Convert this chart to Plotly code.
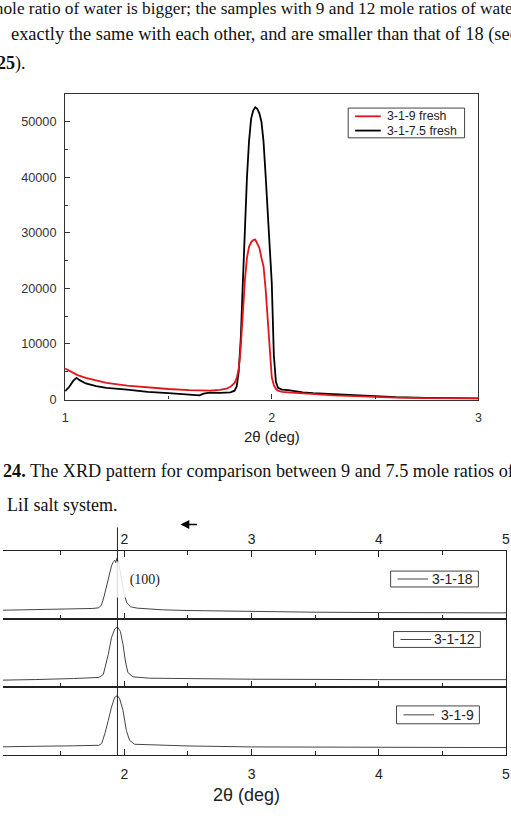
import plotly.graph_objects as go

W, H = 511, 820

# ---------------- upper chart: XRD of 3-1-9 fresh vs 3-1-7.5 fresh ----------------
top_names = ["3-1-9 fresh", "3-1-7.5 fresh"]
top_colors = ["#e3141c", "#000000"]
top_xticks = [1, 2, 3]
top_yticks = [0, 10000, 20000, 30000, 40000, 50000]

tt_red = [1.00, 1.03, 1.06, 1.10, 1.15, 1.20, 1.30, 1.40, 1.50, 1.60, 1.70, 1.75, 1.78, 1.80, 1.82,
          1.83, 1.84, 1.85, 1.86, 1.87, 1.88, 1.89, 1.90, 1.91, 1.92, 1.93, 1.94, 1.95, 1.96, 1.97,
          1.98, 1.99, 2.00, 2.01, 2.02, 2.03, 2.05, 2.10, 2.15, 2.20, 2.30, 2.40, 2.50, 2.60, 2.75,
          2.90, 3.00]
I_red = [5600, 5000, 4400, 3900, 3400, 3000, 2500, 2150, 1900, 1700, 1600, 1750, 1950, 2300, 3000,
         3800, 5500, 9500, 16000, 21500, 25500, 27500, 28300, 28700, 28800, 28000, 27300, 25500, 24000, 20000,
         14000, 8000, 4000, 2600, 1900, 1600, 1400, 1250, 1100, 950, 750, 600, 450, 350, 250,
         200, 180]

tt_black = [1.00, 1.02, 1.04, 1.055, 1.07, 1.10, 1.15, 1.20, 1.30, 1.40, 1.50, 1.60, 1.65, 1.67, 1.70,
            1.75, 1.80, 1.82, 1.83, 1.84, 1.85, 1.86, 1.87, 1.88, 1.89, 1.90, 1.91, 1.92, 1.93, 1.94,
            1.95, 1.96, 1.97, 1.98, 1.99, 2.00, 2.01, 2.02, 2.03, 2.05, 2.08, 2.10, 2.15, 2.20, 2.30,
            2.40, 2.50, 2.60, 2.75, 2.90, 3.00]
I_black = [1500, 2300, 3400, 3900, 3500, 2900, 2400, 2100, 1800, 1400, 1150, 900, 750, 1050, 1250,
           1200, 1300, 1600, 2300, 5000, 11000, 21000, 31000, 40000, 46500, 50500, 52000, 52600, 52300, 51500,
           50000, 46500, 40500, 34000, 27500, 21000, 8000, 3200, 2100, 1800, 1700, 1550, 1300, 1150, 950,
           750, 550, 450, 320, 250, 220]

# ---------------- lower chart: stacked XRD patterns (arbitrary intensity) ----------------
panel_names = ["3-1-18", "3-1-12", "3-1-9"]
bottom_xticks = [1, 2, 3, 4, 5]
peak_position = 1.946
peak_label = "(100)"

p18_x = [1.00, 1.05, 1.20, 1.40, 1.60, 1.75, 1.80, 1.82, 1.84, 1.86, 1.875, 1.89, 1.90, 1.915, 1.925,
         1.933, 1.943, 1.96, 1.98, 2.00, 2.02, 2.05, 2.10, 2.30, 2.50, 3.00, 3.50, 4.00, 4.50, 5.00]
p18_y = [14, 13.5, 14, 14.5, 15, 16, 17, 21, 33, 48, 56, 70, 79, 85, 87,
         83, 90, 78, 55, 36, 24, 18.5, 16.5, 14, 13, 11.2, 10.5, 10, 9.8, 9.5]

p12_x = [1.00, 1.05, 1.30, 1.60, 1.80, 1.835, 1.855, 1.874, 1.899, 1.925, 1.946, 1.969, 1.99, 2.008,
         2.028, 2.067, 2.20, 2.50, 3.00, 4.00, 5.00]
p12_y = [10.5, 10.6, 11.5, 13, 14.6, 19, 33, 48.5, 73, 86, 89, 82.4, 63, 38.8,
         21.8, 15.5, 13.5, 12.7, 12, 11.4, 11.4]

p9_x = [1.00, 1.05, 1.30, 1.60, 1.80, 1.822, 1.847, 1.874, 1.899, 1.925, 1.946, 1.964, 1.99, 2.016,
        2.041, 2.08, 2.50, 3.00, 4.00, 5.00]
p9_y = [12.6, 12.6, 13.5, 14.2, 15, 17.5, 32, 51.4, 71, 85.5, 87.8, 83, 66, 36.9,
        22.3, 16.5, 14, 12.6, 11.6, 11.6]

p18_yticks = [8, 55]
p12_yticks = [12, 44, 89]
p9_yticks = [13, 50, 90]

# ---------------- helpers ----------------
SANS = "Liberation Sans, Arial, sans-serif"
SERIF = "Liberation Serif, Times New Roman, serif"
AX = "#333333"


def px(x):
    return x / W


def py(y):
    return 1 - y / H


fig = go.Figure()

# upper chart traces
fig.add_trace(go.Scatter(x=tt_black, y=I_black, mode="lines", name=top_names[1],
                         line=dict(color=top_colors[1], width=1.8), xaxis="x", yaxis="y", showlegend=False))
fig.add_trace(go.Scatter(x=tt_red, y=I_red, mode="lines", name=top_names[0],
                         line=dict(color=top_colors[0], width=1.8), xaxis="x", yaxis="y", showlegend=False))

# lower chart traces
for (xs, ys, nm, xa, ya) in [(p18_x, p18_y, panel_names[0], "x2", "y2"),
                             (p12_x, p12_y, panel_names[1], "x3", "y3"),
                             (p9_x, p9_y, panel_names[2], "x4", "y4")]:
    fig.add_trace(go.Scatter(x=xs, y=ys, mode="lines", name=nm, line=dict(color="#444444", width=1),
                             xaxis=xa, yaxis=ya, showlegend=False))

# ---------------- axes ----------------
top_x = dict(domain=[px(63), px(482)], range=[1, 3], tickvals=top_xticks,
             ticks="inside", ticklen=5, tickcolor=AX, tickwidth=1,
             minor=dict(ticks="inside", ticklen=3, dtick=0.5, tick0=1, tickcolor=AX),
             showline=True, linecolor=AX, linewidth=1.3, mirror=True,
             showgrid=False, zeroline=False, anchor="y", ticklabelstandoff=6,
             tickfont=dict(family=SANS, size=12.5, color="#333"))
top_y = dict(domain=[py(403), py(94.7)], range=[0, 55000], tickvals=top_yticks,
             ticktext=[str(v) for v in top_yticks],
             ticks="inside", ticklen=5, tickcolor=AX,
             minor=dict(ticks="inside", ticklen=3, dtick=5000, tick0=0, tickcolor=AX),
             showline=True, linecolor=AX, linewidth=1.3, mirror=True,
             showgrid=False, zeroline=False, anchor="x", ticklabelstandoff=5,
             tickfont=dict(family=SANS, size=12.7, color="#333"))

XL, XR = 1.0465, 5.0
xb = dict(range=[XL, XR], tickvals=bottom_xticks, ticks="inside", ticklen=6, tickcolor="#222",
          tickwidth=1.2,
          minor=dict(ticks="inside", ticklen=4, dtick=0.5, tick0=1, tickcolor="#222"),
          showline=True, linecolor="#222", linewidth=1.1, showgrid=False, zeroline=False,
          domain=[0, px(510)], tickfont=dict(family=SANS, size=14, color="#222"))

d1 = [py(624.7), py(556)]
d2 = [py(693.3), py(624.7)]
d3 = [py(762), py(693.3)]
yb = dict(range=[0, 100], side="right", showline=True, linecolor="#222", linewidth=1.3,
          ticks="", showticklabels=False, showgrid=False, zeroline=False)
ystub = dict(range=[0, 100], side="left", showline=False, ticks="inside", ticklen=3,
             tickcolor="#444", showticklabels=False, showgrid=False, zeroline=False)

fig.update_layout(
    xaxis=top_x, yaxis=top_y,
    xaxis2=dict(**xb, anchor="y2", side="top", mirror="allticks", showticklabels=True,
                ticklabelstandoff=1),
    xaxis3=dict(**xb, anchor="y3", mirror=True, showticklabels=False, matches="x2"),
    xaxis4=dict(**xb, anchor="y4", mirror=True, showticklabels=True, matches="x2",
                ticklabelstandoff=6),
    yaxis2=dict(**yb, domain=d1, anchor="x2"),
    yaxis3=dict(**yb, domain=d2, anchor="x3"),
    yaxis4=dict(**yb, domain=d3, anchor="x4"),
    yaxis5=dict(**ystub, overlaying="y2", anchor="x2", tickvals=p18_yticks),
    yaxis6=dict(**ystub, overlaying="y3", anchor="x3", tickvals=p12_yticks),
    yaxis7=dict(**ystub, overlaying="y4", anchor="x4", tickvals=p9_yticks),
)

shapes = []
annotations = []


def T(text, x, y, size, family=SERIF, xanchor="left", color="#111", **kw):
    annotations.append(dict(text=text, x=px(x), y=py(y), xref="paper", yref="paper",
                            xanchor=xanchor, yanchor="middle", showarrow=False,
                            font=dict(family=family, size=size, color=color), **kw))


# page text
T("mole ratio of water is bigger; the samples with 9 and 12 mole ratios of water", -15.5, 9, 17.3)
T("exactly the same with each other, and are smaller than that of 18 (see", 6, 34.5, 18.4)
T("<b>25</b>).", -8, 64, 18)
T("<b>24.</b> The XRD pattern for comparison between 9 and 7.5 mole ratios of", -2.5, 475, 18.2)
T("LiI salt system.", 2, 509, 18)

# axis titles
T("2θ (deg)", 273, 440, 15, family=SANS, xanchor="center", color="#222")
T("2θ (deg)", 247, 802, 18, family=SANS, xanchor="center", color="#222")

# upper legend (box + samples)
shapes.append(dict(type="rect", xref="paper", yref="paper", x0=px(350), x1=px(468),
                   y0=py(139), y1=py(109), line=dict(color="#444", width=1), fillcolor="white"))
for i, (nm, col) in enumerate(zip(top_names, top_colors)):
    yy = 117.3 + i * 14.4
    shapes.append(dict(type="line", xref="paper", yref="paper", x0=px(357), x1=px(383),
                       y0=py(yy), y1=py(yy), line=dict(color=col, width=1.8)))
    T(nm, 387, yy, 12.3, family=SANS, color="#222")

# lower legends
leg_boxes = [(393, 482, 576, 592), (396, 484, 637, 653), (399, 483, 712, 730)]
for nm, (x0, x1, y0, y1) in zip(panel_names, leg_boxes):
    yc = (y0 + y1) / 2
    shapes.append(dict(type="rect", xref="paper", yref="paper", x0=px(x0), x1=px(x1),
                       y0=py(y1), y1=py(y0), line=dict(color="#444", width=1), fillcolor="white"))
    shapes.append(dict(type="line", xref="paper", yref="paper", x0=px(x0 + 7), x1=px(x0 + 38),
                       y0=py(yc), y1=py(yc), line=dict(color="#444", width=1)))
    T(nm, x1 - 3, yc, 14, family=SANS, xanchor="right", color="#222")

# vertical reference line at the (100) peak
shapes.append(dict(type="line", xref="x2", yref="paper", x0=peak_position, x1=peak_position,
                   y0=py(762), y1=py(532), line=dict(color="#222", width=1), layer="above"))

# (100) label with white background
annotations.append(dict(text=peak_label, x=px(144), y=py(584), xref="paper", yref="paper",
                        xanchor="center", yanchor="middle",
                        showarrow=False, width=54, height=33, borderpad=1,
                        bgcolor="rgba(255,255,255,0.85)",
                        font=dict(family=SERIF, size=14, color="#222")))

# arrow
annotations.append(dict(text="", x=px(180), y=py(529), xref="paper", yref="paper",
                        ax=18, ay=0, showarrow=True, arrowhead=2, arrowsize=1.1,
                        arrowwidth=1.6, arrowcolor="#000"))

fig.update_layout(width=W, height=H, margin=dict(l=0, r=0, t=0, b=0),
                  paper_bgcolor="white", plot_bgcolor="rgba(0,0,0,0)",
                  shapes=shapes, annotations=annotations, showlegend=False)

fig.write_html("out.html", config={"displayModeBar": False})
